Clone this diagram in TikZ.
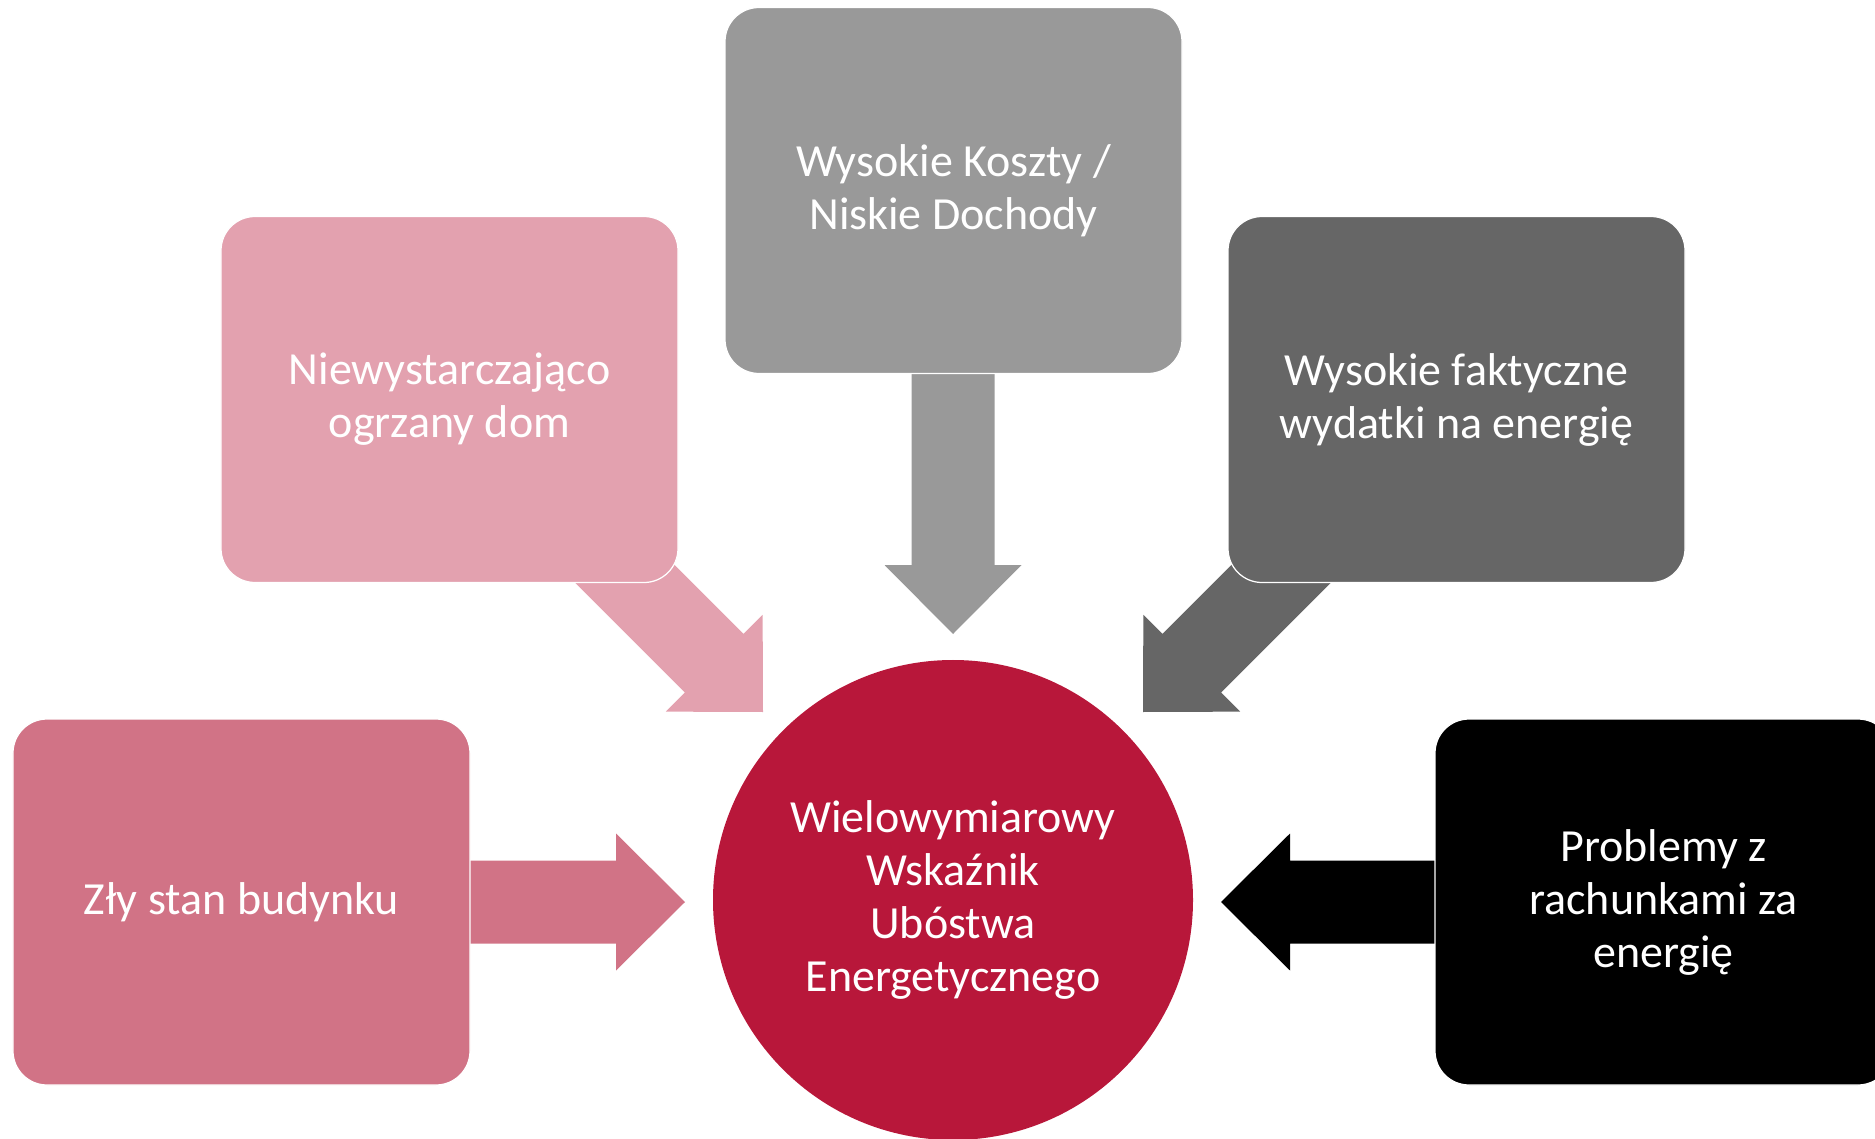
\documentclass[tikz,border=0pt]{standalone}
\usepackage{fontspec}
\setmainfont{Carlito}
\usetikzlibrary{calc}
\definecolor{cgray}{HTML}{999999}
\definecolor{cdark}{HTML}{666666}
\definecolor{cpinkl}{HTML}{E3A1AF}
\definecolor{cpinkd}{HTML}{D17386}
\definecolor{ccrimson}{HTML}{B8173A}
\tikzset{
  boxnode/.style={rectangle, rounded corners=13.6pt, minimum width=182.8pt,
    minimum height=146.4pt, align=center, text=white, draw=white, line width=0.5pt,
    font=\fontsize{18.4pt}{21.2pt}\selectfont},
  hubnode/.style={circle, minimum size=192pt, align=center, text=white,
    fill=ccrimson, font=\fontsize{18.4pt}{21.2pt}\selectfont},
}
% block arrow from #2 (tail) to #3 (tip), colour #1
\newcommand{\blockarrow}[3]{%
  \fill[#1]
    ($(#2)!16.6pt!90:(#3)$) --
    ($($(#3)!27.6pt!(#2)$)!16.6pt!90:(#3)$) --
    ($($(#3)!27.6pt!(#2)$)!27.4pt!90:(#3)$) --
    (#3) --
    ($($(#3)!27.6pt!(#2)$)!27.4pt!-90:(#3)$) --
    ($($(#3)!27.6pt!(#2)$)!16.6pt!-90:(#3)$) --
    ($(#2)!16.6pt!-90:(#3)$) -- cycle;}
\begin{document}
\begin{tikzpicture}[x=0.4pt,y=-0.4pt]
\path[use as bounding box, clip] (0,0) rectangle (1875,1139);
% arrow end points
\coordinate (tT) at (953,300);   \coordinate (hT) at (953,634);
\coordinate (tNW) at (580,529);  \coordinate (hNW) at (763,712);
\coordinate (tNE) at (1326,529); \coordinate (hNE) at (1143,712);
\coordinate (tW) at (440,902);   \coordinate (hW) at (685,902);
\coordinate (tE) at (1465,902);  \coordinate (hE) at (1221,902);
\blockarrow{cgray}{tT}{hT}
\blockarrow{cpinkl}{tNW}{hNW}
\blockarrow{cdark}{tNE}{hNE}
\blockarrow{cpinkd}{tW}{hW}
\blockarrow{black}{tE}{hE}
% boxes
\node[boxnode, fill=cgray] (top) at (953.5,190.5) {Wysokie Koszty /\\Niskie Dochody};
\node[boxnode, fill=cpinkl] (nw) at (449.5,399.5) {Niewystarczająco\\ogrzany dom};
\node[boxnode, fill=cdark] (ne) at (1456.5,399.5) {Wysokie faktyczne\\wydatki na energię};
\node[boxnode, fill=cpinkd] (sw) at (241.5,902) {Zły stan budynku};
\node[boxnode, fill=black] (se) at (1663.5,902) {Problemy z\\rachunkami za\\energię};
\node[hubnode] (hub) at (953,900) {Wielowymiarowy\\Wskaźnik\\Ubóstwa\\Energetycznego};
\end{tikzpicture}
\end{document}
